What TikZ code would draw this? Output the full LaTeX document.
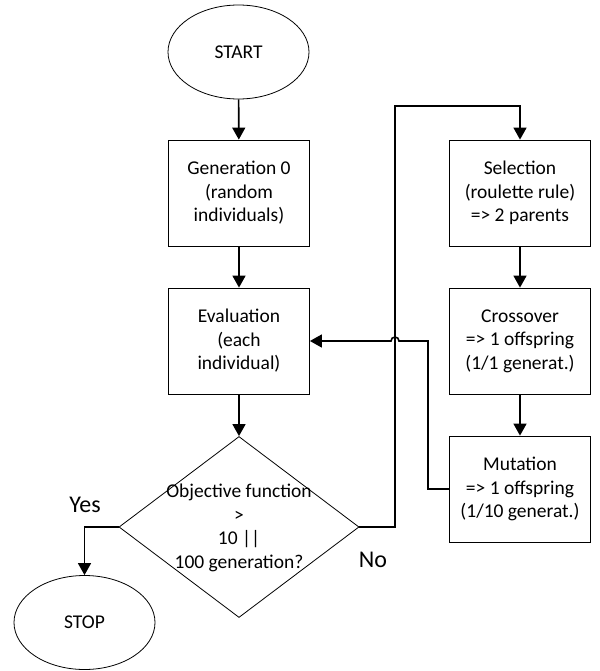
\documentclass[tikz,border=0pt]{standalone}
\usepackage{fontspec}
\setmainfont{Carlito}
\usetikzlibrary{arrows.meta,shapes.geometric}
\tikzset{
  every node/.style={font=\fontsize{19.5}{23.5}\selectfont,inner sep=0pt},
  terminal/.style={ellipse,draw,line width=.8pt,minimum width=141pt,minimum height=94pt},
  process/.style={rectangle,draw,line width=.8pt,minimum width=141pt,minimum height=106pt,align=center},
  decision/.style={diamond,draw,line width=.8pt,minimum width=240pt,minimum height=181pt},
  answer/.style={font=\fontsize{24}{28}\selectfont},
  flow/.style={-{Triangle[length=12pt,width=13pt]},line width=1.6pt},
}

\begin{document}
\begin{tikzpicture}[x=1pt,y=-1pt]
\path[use as bounding box] (0,0) rectangle (599,671);
% Left column: start, initial population, evaluation, test.
\node[terminal] (start) at (238.5,52) {START};
\node[process] (gen) at (239,193) {Generation 0\\(random\\individuals)};
\node[process] (eval) at (239,341) {Evaluation\\(each\\individual)};
\node[decision] (obj) at (239,527) {};
\node[align=center] (objtext) at (239,528) {Objective function\\>\\10 ||\\100 generation?};
\node[terminal] (stop) at (84.5,622.5) {STOP};
\node[answer] (yes) at (85,505) {Yes};
\node[answer] (no) at (373,560) {No};
% Right column: genetic operators.
\node[process] (sel) at (520,193) {Selection\\(roulette rule)\\=> 2 parents};
\node[process] (cross) at (520,341) {Crossover\\=> 1 offspring\\(1/1 generat.)};
\node[process] (mut) at (520,489) {Mutation\\=> 1 offspring\\(1/10 generat.)};
\coordinate (loop) at (395,106);
\coordinate (back) at (428,341);
\coordinate (hop) at (loop |- eval.east);
\draw[flow] (start) -- (gen);
\draw[flow] (gen) -- (eval);
\draw[flow] (eval) -- (obj);
\draw[flow] (obj.west) -| (stop.north);
\draw[flow] (obj.east) -| (loop) -| (sel.north);
\draw[flow] (sel) -- (cross);
\draw[flow] (cross) -- (mut);
\draw[flow] (mut.west) -| (back) -- ([xshift=4pt]hop) arc[start angle=0,end angle=-180,radius=4] -- (eval.east);
\end{tikzpicture}
\end{document}
